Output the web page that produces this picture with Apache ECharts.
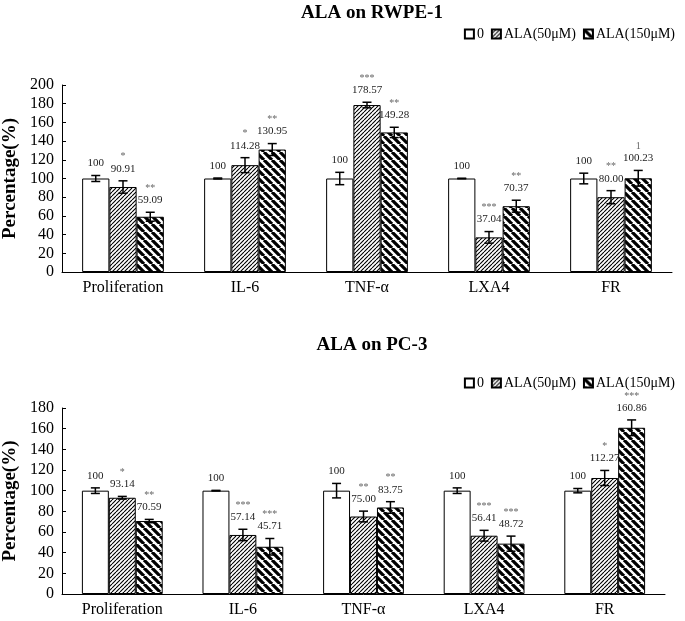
<!DOCTYPE html>
<html lang="en">
<head>
    <meta charset="UTF-8">
    <script src="https://cdn.jsdelivr.net/npm/echarts@6/dist/echarts.min.js"></script>
    <title>ALA</title>
</head>
<body style="margin:0;">
<div id="container" style="width:685px;height:621px;"></div>
<script>
    let categories = ['Proliferation', 'IL-6', 'TNF-α', 'LXA4', 'FR'];
    let seriesNames = ['0', 'ALA(50μM)', 'ALA(150μM)'];

    // ALA on RWPE-1
    let rwpeCtrl = [100, 100, 100, 100, 100];
    let rwpe50 = [90.91, 114.28, 178.57, 37.04, 80.00];
    let rwpe150 = [59.09, 130.95, 149.28, 70.37, 100.23];
    let rwpeCtrlErr = [3.2, 0.5, 6.6, 0.3, 5.7];
    let rwpe50Err = [6.6, 8, 3, 6.2, 7];
    let rwpe150Err = [4.8, 6.4, 5.5, 6.4, 8.4];
    let rwpe50Sig = ['*', '*', '***', '***', '**'];
    let rwpe150Sig = ['**', '**', '**', '**', '1'];

    // ALA on PC-3
    let pc3Ctrl = [100, 100, 100, 100, 100];
    let pc350 = [93.14, 57.14, 75.00, 56.41, 112.27];
    let pc3150 = [70.59, 45.71, 83.75, 48.72, 160.86];
    let pc3CtrlErr = [2.7, 0.3, 7, 2.7, 2.1];
    let pc350Err = [1.3, 5.5, 5.2, 5.2, 7.3];
    let pc3150Err = [1.6, 8, 5.6, 7.3, 7.6];
    let pc350Sig = ['*', '***', '**', '***', '*'];
    let pc3150Sig = ['**', '***', '**', '***', '***'];

    let font = '"Liberation Serif", "Times New Roman", serif';
    let gapPct = 0.33;

    function hatch() {
        let c = document.createElement('canvas');
        c.width = 4; c.height = 4;
        let ctx = c.getContext('2d');
        ctx.fillStyle = '#fff';
        ctx.fillRect(0, 0, 4, 4);
        ctx.strokeStyle = '#000';
        ctx.lineWidth = 1.1;
        ctx.beginPath();
        [0, 4, 8].forEach(function (k) {
            ctx.moveTo(k, 0);
            ctx.lineTo(k - 4, 4);
        });
        ctx.stroke();
        return c;
    }

    function stripes() {
        let c = document.createElement('canvas');
        c.width = 8; c.height = 8;
        let ctx = c.getContext('2d');
        ctx.fillStyle = '#fff';
        ctx.fillRect(0, 0, 8, 8);
        ctx.strokeStyle = '#000';
        ctx.lineWidth = 3.2;
        ctx.beginPath();
        [-8, 0, 8].forEach(function (k) {
            ctx.moveTo(k, 0);
            ctx.lineTo(k + 8, 8);
        });
        ctx.stroke();
        return c;
    }

    let fills = ['#fff', {image: hatch(), repeat: 'repeat'}, {image: stripes(), repeat: 'repeat'}];

    function barSeries(idx, g, vals) {
        return {
            name: seriesNames[g],
            type: 'bar',
            xAxisIndex: idx,
            yAxisIndex: idx,
            data: vals,
            barGap: '0%',
            barCategoryGap: (gapPct * 100) + '%',
            itemStyle: {color: fills[g], borderColor: '#000', borderWidth: 1},
            z: 2
        };
    }

    function errSeries(idx, groups) {
        // groups: [[vals, errs, sigs], ...] per bar group
        let rows = [], labels = [], sigs = [];
        groups.forEach(function (grp, g) {
            grp[0].forEach(function (v, i) {
                rows.push([i, g, v, grp[1][i]]);
                labels.push(g === 0 ? String(v) : v.toFixed(2));
                sigs.push(grp[2] ? grp[2][i] : '');
            });
        });
        return {
            type: 'custom',
            xAxisIndex: idx,
            yAxisIndex: idx,
            data: rows,
            z: 5,
            silent: true,
            renderItem: function (params, api) {
                let cat = api.value(0), g = api.value(1), v = api.value(2), e = api.value(3);
                let band = api.size([1, 0])[0];
                let bw = band * (1 - gapPct) / 3;
                let cx = api.coord([cat, 0])[0] + (g - 1) * bw;
                let yTop = api.coord([cat, v + e])[1];
                let yBot = api.coord([cat, v - e])[1];
                let st = {stroke: '#000', lineWidth: 1.5};
                return {
                    type: 'group',
                    children: [
                        {type: 'line', shape: {x1: cx, y1: yTop, x2: cx, y2: yBot}, style: st},
                        {type: 'line', shape: {x1: cx - 4.5, y1: yTop, x2: cx + 4.5, y2: yTop}, style: st},
                        {type: 'line', shape: {x1: cx - 4.5, y1: yBot, x2: cx + 4.5, y2: yBot}, style: st},
                        {type: 'text', style: {text: labels[params.dataIndex], x: cx, y: yTop - 12,
                                align: 'center', verticalAlign: 'middle', font: '11px ' + font, fill: '#222'}},
                        {type: 'text', style: {text: sigs[params.dataIndex], x: cx, y: yTop - 24,
                                align: 'center', verticalAlign: 'middle', font: '10px ' + font, fill: '#666'}}
                    ]
                };
            }
        };
    }

    function xAx(idx) {
        return {
            type: 'category',
            gridIndex: idx,
            data: categories,
            axisLine: {lineStyle: {color: '#000', width: 1}},
            axisTick: {inside: true, length: 4, lineStyle: {color: '#000'}},
            axisLabel: {color: '#000', fontFamily: font, fontSize: 16, margin: 8}
        };
    }

    function yAx(idx, max) {
        return {
            type: 'value',
            gridIndex: idx,
            min: 0,
            max: max,
            interval: 20,
            name: 'Percentage(%)',
            nameLocation: 'middle',
            nameGap: 42,
            nameTextStyle: {color: '#000', fontFamily: font, fontSize: 19, fontWeight: 'bold'},
            axisLine: {show: true, lineStyle: {color: '#000', width: 1}},
            axisTick: {show: true, inside: true, length: 4, lineStyle: {color: '#000'}},
            axisLabel: {color: '#000', fontFamily: font, fontSize: 16, margin: 8},
            splitLine: {show: false}
        };
    }

    function legendAt(top) {
        return {
            data: seriesNames,
            top: top,
            right: 5,
            icon: 'rect',
            itemWidth: 9,
            itemHeight: 9,
            itemGap: 7,
            selectedMode: false,
            textStyle: {color: '#000', fontFamily: font, fontSize: 14, padding: [0, 0, 0, -2]}
        };
    }

    let myChart = echarts.init(document.getElementById('container'));
    let option = {
        backgroundColor: '#fff',
        animation: false,
        title: [
            {text: 'ALA on RWPE-1', left: 367, top: -1, textAlign: 'center',
                textStyle: {color: '#000', fontFamily: font, fontSize: 19, fontWeight: 'bold'}},
            {text: 'ALA on PC-3', left: 367, top: 331, textAlign: 'center',
                textStyle: {color: '#000', fontFamily: font, fontSize: 19, fontWeight: 'bold'}}
        ],
        legend: [legendAt(22), legendAt(371)],
        grid: [
            {left: 62, right: 13, top: 85, bottom: 349, containLabel: false, outerBoundsMode: 'none'},
            {left: 62, right: 20, top: 408, bottom: 27, containLabel: false, outerBoundsMode: 'none'}
        ],
        xAxis: [xAx(0), xAx(1)],
        yAxis: [yAx(0, 200), yAx(1, 180)],
        series: [
            barSeries(0, 0, rwpeCtrl),
            barSeries(0, 1, rwpe50),
            barSeries(0, 2, rwpe150),
            errSeries(0, [[rwpeCtrl, rwpeCtrlErr, null], [rwpe50, rwpe50Err, rwpe50Sig], [rwpe150, rwpe150Err, rwpe150Sig]]),
            barSeries(1, 0, pc3Ctrl),
            barSeries(1, 1, pc350),
            barSeries(1, 2, pc3150),
            errSeries(1, [[pc3Ctrl, pc3CtrlErr, null], [pc350, pc350Err, pc350Sig], [pc3150, pc3150Err, pc3150Sig]])
        ]
    };
    myChart.setOption(option);
</script>
</body>
</html>
